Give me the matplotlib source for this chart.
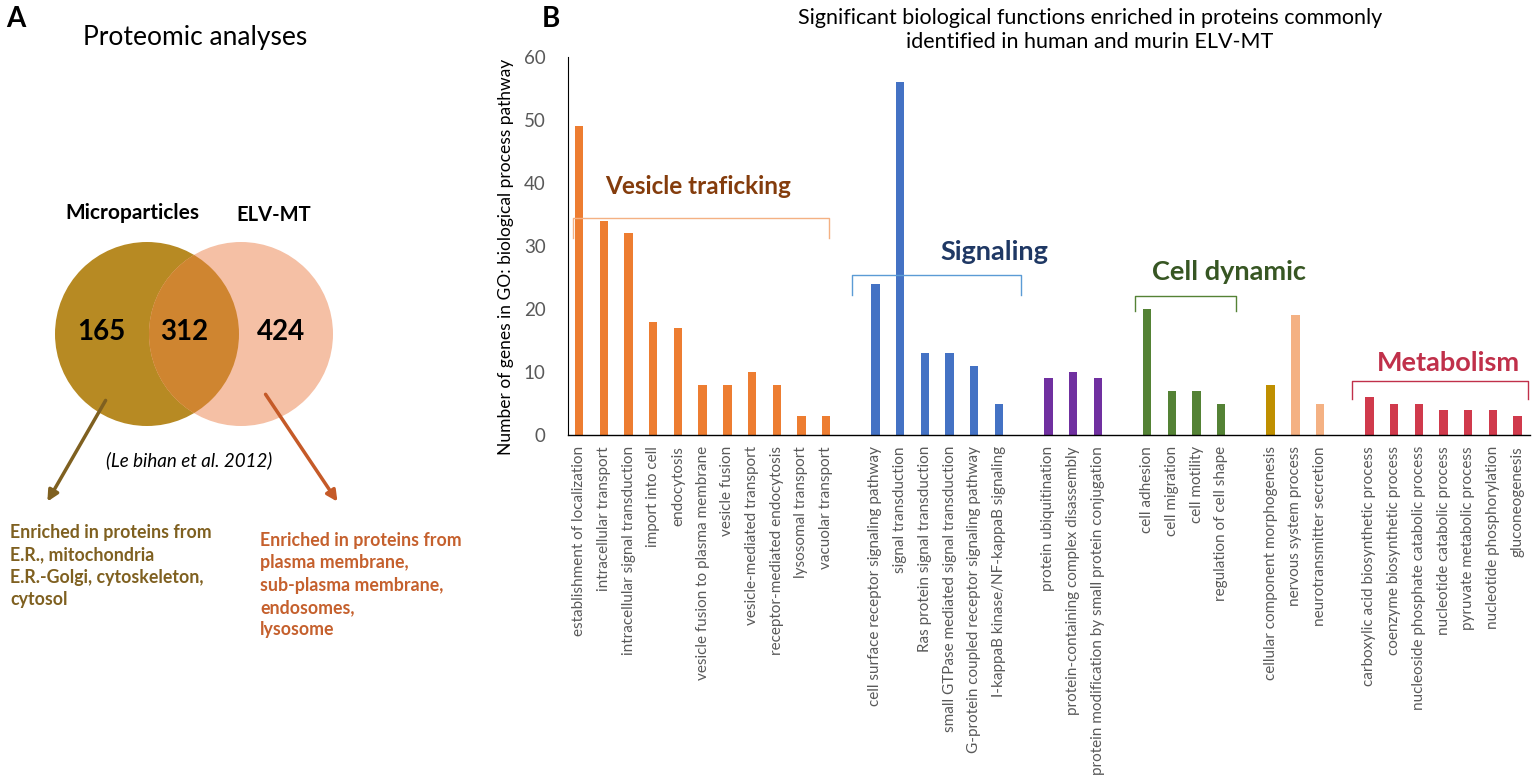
import matplotlib
matplotlib.use("Agg")
import matplotlib.pyplot as plt
from matplotlib.patches import Circle

plt.rcParams['font.family'] = ['Lato', 'DejaVu Sans']

# Panel A: Venn counts
venn_counts = [165, 312, 424]
venn_sets = ['Microparticles', 'ELV-MT']

# Panel B: GO biological process terms and gene counts
vesicle_terms = ['establishment of localization', 'intracellular transport',
                 'intracellular signal transduction', 'import into cell', 'endocytosis',
                 'vesicle fusion to plasma membrane', 'vesicle fusion',
                 'vesicle-mediated transport', 'receptor-mediated endocytosis',
                 'lysosomal transport', 'vacuolar transport']
vesicle_counts = [49, 34, 32, 18, 17, 8, 8, 10, 8, 3, 3]

signaling_terms = ['cell surface receptor signaling pathway', 'signal transduction',
                   'Ras protein signal transduction', 'small GTPase mediated signal transduction',
                   'G-protein coupled receptor signaling pathway',
                   'I-kappaB kinase/NF-kappaB signaling']
signaling_counts = [24, 56, 13, 13, 11, 5]

protein_terms = ['protein ubiquitination', 'protein-containing complex disassembly',
                 'protein modification by small protein conjugation']
protein_counts = [9, 10, 9]

dynamic_terms = ['cell adhesion', 'cell migration', 'cell motility', 'regulation of cell shape']
dynamic_counts = [20, 7, 7, 5]

other_terms = ['cellular component morphogenesis', 'nervous system process',
               'neurotransmitter secretion']
other_counts = [8, 19, 5]

metabolism_terms = ['carboxylic acid biosynthetic process', 'coenzyme biosynthetic process',
                    'nucleoside phosphate catabolic process', 'nucleotide catabolic process',
                    'pyruvate metabolic process', 'nucleotide phosphorylation',
                    'gluconeogenesis']
metabolism_counts = [6, 5, 5, 4, 4, 4, 3]

groups = [
    (vesicle_terms, vesicle_counts, ['#ed7d31'] * 11),
    (signaling_terms, signaling_counts, ['#4472c4'] * 6),
    (protein_terms, protein_counts, ['#7030a0'] * 3),
    (dynamic_terms, dynamic_counts, ['#548235'] * 4),
    (other_terms, other_counts, ['#bf8f00', '#f4b183', '#f4b183']),
    (metabolism_terms, metabolism_counts, ['#d03a4c'] * 7),
]

fig = plt.figure(figsize=(15.35, 7.84), dpi=100)

# ---- panel A drawn in pixel coordinates ----
ax0 = fig.add_axes([0, 0, 1, 1])
ax0.set_xlim(0, 1535)
ax0.set_ylim(784, 0)
ax0.axis('off')

left_c = Circle((147, 334), 92, color='#b78a23', lw=0)
right_c = Circle((241, 334), 92, color='#f5c0a5', lw=0)
ax0.add_patch(left_c)
ax0.add_patch(right_c)
overlap = Circle((241, 334), 92, color='#cf8530', lw=0)
ax0.add_patch(overlap)
overlap.set_clip_path(left_c)

for x, v in zip([101, 184, 281], venn_counts):
    ax0.text(x, 332, str(v), ha='center', va='center', fontsize=20, fontweight='bold')
ax0.text(132, 213, venn_sets[0], ha='center', va='center', fontsize=15, fontweight='bold')
ax0.text(274, 215, venn_sets[1], ha='center', va='center', fontsize=14.5, fontweight='bold')

ax0.text(6, 19, 'A', ha='left', va='center', fontsize=20, fontweight='bold')
ax0.text(195, 37, 'Proteomic analyses', ha='center', va='center', fontsize=19)
ax0.text(189, 460, '(Le bihan et al. 2012)', ha='center', va='center', fontsize=13.5,
         style='italic')

ax0.annotate('', xy=(46, 504), xytext=(107, 398),
             arrowprops=dict(arrowstyle='-|>', color='#7f6020', lw=2.5, mutation_scale=16))
ax0.annotate('', xy=(339, 504), xytext=(264, 392),
             arrowprops=dict(arrowstyle='-|>', color='#c55a28', lw=2.5, mutation_scale=16))

ax0.text(10, 524, 'Enriched in proteins from\nE.R., mitochondria\nE.R.-Golgi, cytoskeleton,\ncytosol',
         ha='left', va='top', fontsize=12.8, fontweight='bold', color='#7f6020', linespacing=1.38)
ax0.text(260, 532, 'Enriched in proteins from\nplasma membrane,\nsub-plasma membrane,\nendosomes,\nlysosome',
         ha='left', va='top', fontsize=12.8, fontweight='bold', color='#c5602d', linespacing=1.38)

ax0.text(542, 19, 'B', ha='left', va='center', fontsize=20, fontweight='bold')
ax0.text(1090, 30, 'Significant biological functions enriched in proteins commonly\n'
         'identified in human and murin ELV-MT', ha='center', va='center', fontsize=15.5,
         linespacing=1.2)

# ---- panel B bar chart ----
ax = fig.add_axes([568 / 1535, 349 / 784, 962 / 1535, 378 / 784])
ax.patch.set_alpha(0)

labels, values, colors, xs = [], [], [], []
pos = 0
for terms, counts, cols in groups:
    for t, c, col in zip(terms, counts, cols):
        labels.append(t)
        values.append(c)
        colors.append(col)
        xs.append(pos)
        pos += 1
    pos += 1

ax.bar(xs, values, width=0.34, color=colors)
ax.set_xlim(-0.45, 38.5)
ax.set_ylim(0, 60)
ax.set_yticks(range(0, 61, 10))
ax.tick_params(axis='y', length=0, pad=16, labelsize=13.5, labelcolor='#595959')
ax.set_xticks(xs)
ax.set_xticklabels(labels, rotation=90, fontsize=11, color='#595959')
ax.tick_params(axis='x', length=0, pad=8)
for s in ['top', 'right']:
    ax.spines[s].set_visible(False)
ax.spines['left'].set_linewidth(0.8)
ax.spines['bottom'].set_linewidth(1.0)
ax.set_ylabel('Number of genes in GO: biological process pathway', fontsize=12.5)
ax.yaxis.set_label_coords(-0.056, 0.47)

# group brackets and titles
brackets = [
    (-0.25, 10.1, 34.4, 31.3, '#f4b183', 'Vesicle traficking', 4.8, 39.5, '#843c0c', 17.5),
    (11.05, 17.9, 25.4, 22.2, '#5b9bd5', 'Signaling', 16.8, 29.0, '#1f3864', 19.5),
    (22.5, 26.6, 22.1, 19.7, '#548235', 'Cell dynamic', 26.3, 25.8, '#375623', 19.5),
    (31.3, 38.4, 8.5, 5.7, '#c0304a', 'Metabolism', 35.2, 11.5, '#c0304a', 19.5),
]
for x0, x1, ytop, ybot, lc, name, tx, ty, tc, fs in brackets:
    ax.plot([x0, x0, x1, x1], [ybot, ytop, ytop, ybot], color=lc, lw=1.0, clip_on=False)
    ax.text(tx, ty, name, ha='center', va='center', fontsize=fs, fontweight='bold', color=tc)

fig.savefig('out.png', dpi=100)
